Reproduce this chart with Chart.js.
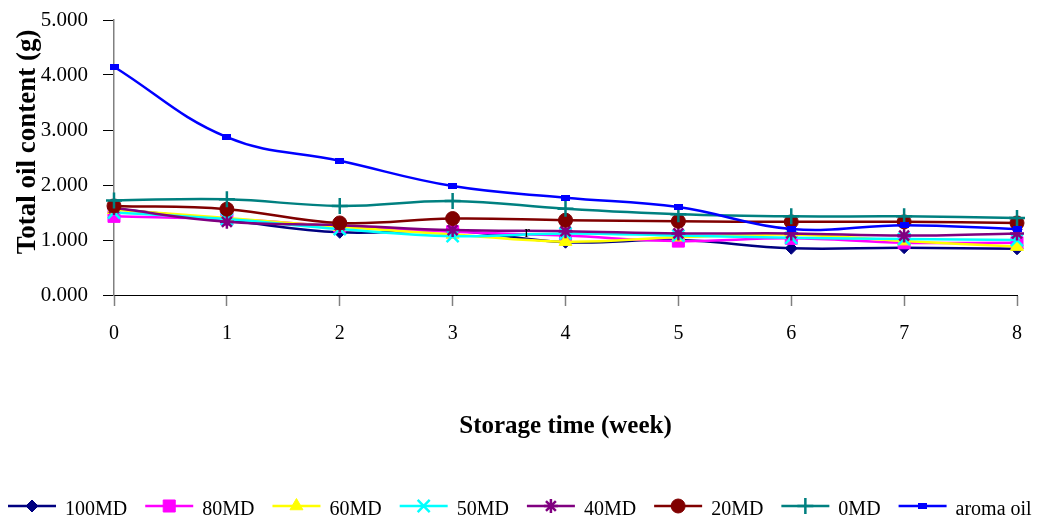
<!DOCTYPE html>
<html>
<head>
<meta charset="utf-8">
<script src="https://cdn.jsdelivr.net/npm/chart.js@4/dist/chart.umd.min.js"></script>
<style>
html,body{margin:0;padding:0;background:#fff;}
canvas{display:block;}
</style>
</head>
<body>
<canvas id="c" width="1043" height="524"></canvas>
<script>
// ---- data ----
const weeks = ['0','1','2','3','4','5','6','7','8'];
const seriesNames = ['100MD','80MD','60MD','50MD','40MD','20MD','0MD','aroma oil'];
const md100 = [1.57,1.36,1.14,1.17,0.96,1.00,0.85,0.86,0.84];
const md80  = [1.43,1.38,1.25,1.15,1.08,0.98,1.03,0.95,0.95];
const md60  = [1.55,1.40,1.24,1.10,0.97,1.05,1.10,0.98,0.88];
const md50  = [1.50,1.38,1.20,1.07,1.12,1.08,1.04,1.02,1.00];
const md40  = [1.58,1.33,1.27,1.18,1.16,1.12,1.12,1.08,1.12];
const md20  = [1.62,1.56,1.31,1.39,1.36,1.34,1.33,1.33,1.31];
const md0   = [1.72,1.74,1.62,1.71,1.57,1.47,1.43,1.43,1.40];
const aromaOil = [4.15,2.87,2.44,1.98,1.77,1.60,1.20,1.27,1.20];
const yTickLabels = ['0.000','1.000','2.000','3.000','4.000','5.000'];
const xTitle = 'Storage time (week)';
const yTitle = 'Total oil content (g)';
const strayText = 'r';

// ---- styles ----
const SERIF = '"Liberation Serif","Times New Roman",serif';
const blueMark = document.createElement('canvas');
blueMark.width = 9; blueMark.height = 6;
(function(){const g = blueMark.getContext('2d'); g.fillStyle = '#0000FF'; g.fillRect(0,0,9,6);})();

const styles = [
  {color:'#000080', point:'rectRot',  r:6,   bw:1},
  {color:'#FF00FF', point:'rect',     r:8.5, bw:1},
  {color:'#FFFF00', point:'triangle', r:7.5, bw:1},
  {color:'#00FFFF', point:'crossRot', r:8.5, bw:2.5},
  {color:'#800080', point:'star',     r:7,   bw:2.5},
  {color:'#800000', point:'circle',   r:7,   bw:1},
  {color:'#008080', point:'cross',    r:8,   bw:2.5},
  {color:'#0000FF', point:blueMark,   r:5,   bw:0}
];
const seriesValues = [md100, md80, md60, md50, md40, md20, md0, aromaOil];

const datasets = seriesValues.map((vals, i) => ({
  label: seriesNames[i],
  data: vals,
  borderColor: styles[i].color,
  backgroundColor: styles[i].color,
  pointBackgroundColor: styles[i].color,
  pointBorderColor: styles[i].color,
  pointStyle: styles[i].point,
  pointRadius: styles[i].r,
  pointBorderWidth: styles[i].bw,
  borderWidth: 2.5,
  tension: 0.4,
  fill: false,
  clip: false,
  order: seriesValues.length - i
}));

const decorPlugin = {
  id: 'decor',
  afterDraw(chart) {
    const ctx = chart.ctx;
    const ca = chart.chartArea;
    ctx.save();
    // x title
    ctx.fillStyle = '#000';
    ctx.font = 'bold 25px ' + SERIF;
    ctx.textAlign = 'center';
    ctx.textBaseline = 'middle';
    ctx.fillText(xTitle, (ca.left + ca.right) / 2, 427);
    // y title
    ctx.save();
    ctx.translate(28, 142);
    ctx.rotate(-Math.PI / 2);
    ctx.font = 'bold 27px ' + SERIF;
    ctx.fillText(yTitle, 0, 0);
    ctx.restore();
    // stray text
    const xs = chart.scales.x, ys = chart.scales.y;
    ctx.font = '16px ' + SERIF;
    ctx.fillText(strayText, xs.getPixelForValue(3) + (xs.getPixelForValue(4) - xs.getPixelForValue(3)) * 0.66, ys.getPixelForValue(1.13));
    // legend
    ctx.font = '20px ' + SERIF;
    ctx.textAlign = 'left';
    let x = 8;
    const ly = 506, ty = 510;
    chart.data.datasets.forEach(ds => {
      ctx.strokeStyle = ds.borderColor;
      ctx.lineWidth = ds.borderWidth;
      ctx.beginPath();
      ctx.moveTo(x, ly);
      ctx.lineTo(x + 48, ly);
      ctx.stroke();
      ctx.fillStyle = ds.pointBackgroundColor;
      ctx.strokeStyle = ds.pointBorderColor;
      ctx.lineWidth = ds.pointBorderWidth;
      if (Chart.helpers && Chart.helpers.drawPoint) {
        Chart.helpers.drawPoint(ctx, {pointStyle: ds.pointStyle, rotation: 0, radius: ds.pointRadius, borderWidth: ds.pointBorderWidth}, x + 24, ly);
      }
      ctx.fillStyle = '#000';
      ctx.fillText(ds.label, x + 57, ty);
      x += 57 + ctx.measureText(ds.label).width + 18;
    });
    ctx.restore();
  }
};

new Chart(document.getElementById('c'), {
  type: 'line',
  data: { labels: weeks, datasets },
  options: {
    responsive: false,
    animation: false,
    events: [],
    layout: { padding: { left: 0, top: 20, right: 26, bottom: 0 } },
    plugins: { legend: { display: false }, tooltip: { enabled: false } },
    scales: {
      x: {
        type: 'category',
        offset: false,
        afterFit(scale) { scale.height = 229; },
        grid: { display: true, drawOnChartArea: false, drawTicks: true, tickLength: 11, tickColor: '#808080', tickWidth: 1.5, offset: false },
        border: { display: true, color: '#000', width: 1 },
        ticks: { color: '#000', font: { family: SERIF, size: 20 }, padding: 16, maxRotation: 0, autoSkip: false }
      },
      y: {
        min: 0, max: 5,
        afterFit(scale) { scale.width = 114; scale.paddingTop = 0; scale.paddingBottom = 0; },
        grid: { display: true, drawOnChartArea: false, drawTicks: true, tickLength: 11, tickColor: '#000', tickWidth: 1 },
        border: { display: true, color: '#808080', width: 1.5 },
        ticks: { stepSize: 1, color: '#000', font: { family: SERIF, size: 21 }, padding: 15,
          callback: (v, i) => yTickLabels[i] }
      }
    }
  },
  plugins: [decorPlugin]
});
</script>
</body>
</html>
